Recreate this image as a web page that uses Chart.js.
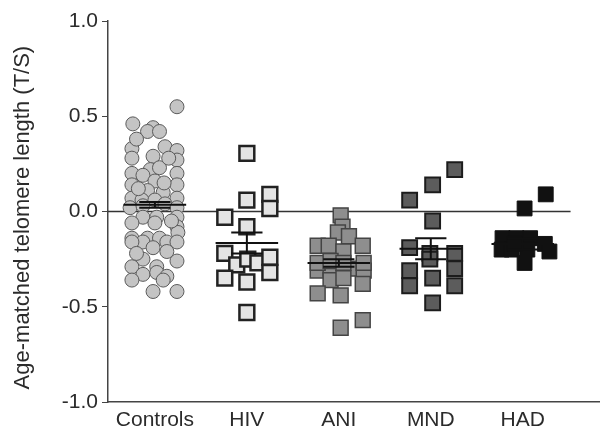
<!DOCTYPE html>
<html>
<head>
<meta charset="utf-8">
<script src="https://cdn.jsdelivr.net/npm/chart.js@4/dist/chart.umd.min.js"></script>
<style>
  html, body { margin: 0; padding: 0; background: #fff; overflow: hidden; }
  #wrap { position: relative; width: 600px; height: 439px; }
  canvas { display: block; }
</style>
</head>
<body>
<div id="wrap"><canvas id="myChart"></canvas></div>
<script>
/* Data */
const categories = ['Controls', 'HIV', 'ANI', 'MND', 'HAD'];
const yTicks = [-1.0, -0.5, 0.0, 0.5, 1.0];

// jitter = horizontal offset inside each group (in group units), values = T/S
const controlsJitter = [0.24, -0.24, -0.02, -0.08, 0.05, 0.11, -0.25, 0.24, -0.02, -0.25, 0.24, -0.05, 0.05, -0.25, 0.24, -0.13, 0, -0.25, 0.24, -0.08, 0.09, -0.25, 0.24, -0.14, 0, 0.11, -0.27, -0.13, 0.24, -0.13, 0.02, 0.24, -0.25, 0, 0.24, 0.25, -0.25, -0.08, 0.05, -0.13, 0.13, 0.24, -0.25, -0.02, 0.13, 0.24, -0.13, -0.25, 0.02, -0.13, -0.25, 0.02, 0.13, 0.09, -0.02, 0.24, -0.2, 0.15, -0.18, 0.18, -0.2, 0.1];
const controlsValues = [0.55, 0.46, 0.44, 0.42, 0.42, 0.34, 0.33, 0.32, 0.29, 0.28, 0.27, 0.22, 0.23, 0.20, 0.20, 0.19, 0.16, 0.14, 0.14, 0.11, 0.10, 0.07, 0.07, 0.06, 0.06, 0.04, 0.02, 0.03, 0.02, -0.03, -0.03, -0.03, -0.06, -0.06, -0.08, -0.11, -0.14, -0.14, -0.14, -0.16, -0.16, -0.16, -0.16, -0.19, -0.21, -0.26, -0.25, -0.29, -0.29, -0.33, -0.36, -0.32, -0.34, -0.36, -0.42, -0.42, 0.38, 0.28, 0.12, -0.05, -0.22, 0.15];

const hivJitter = [0, 0, 0.25, 0.25, -0.24, 0, -0.24, -0.11, 0.01, 0.12, 0.25, 0.25, -0.24, 0, 0];
const hivValues = [0.305, 0.06, 0.09, 0.016, -0.03, -0.08, -0.22, -0.28, -0.25, -0.27, -0.24, -0.32, -0.35, -0.37, -0.53];

const aniJitter = [0.02, 0.04, -0.01, 0.11, -0.23, -0.11, 0.26, 0.05, -0.23, -0.09, 0.13, 0.27, -0.09, 0.05, 0.26, -0.23, 0.02, 0.02, 0.26, -0.23, -0.09, 0.05, 0.27];
const aniValues = [-0.02, -0.08, -0.11, -0.13, -0.18, -0.18, -0.18, -0.21, -0.31, -0.30, -0.30, -0.31, -0.36, -0.35, -0.38, -0.43, -0.44, -0.61, -0.57, -0.27, -0.26, -0.27, -0.27];

const mndJitter = [0.26, 0.02, -0.23, 0.02, -0.23, -0.01, 0.26, -0.01, 0.26, -0.23, -0.23, 0.02, 0.26, 0.02];
const mndValues = [0.22, 0.14, 0.06, -0.05, -0.19, -0.22, -0.22, -0.25, -0.30, -0.31, -0.39, -0.35, -0.39, -0.48];

const hadJitter = [0.25, 0.02, -0.22, -0.07, 0.08, 0.24, -0.23, -0.12, 0.05, 0.29, 0.02, -0.09];
const hadValues = [0.09, 0.016, -0.14, -0.14, -0.14, -0.17, -0.20, -0.20, -0.20, -0.21, -0.27, -0.17];

const groupMeans = [0.035, -0.165, -0.27, -0.195, -0.17];
const groupSems = [0.015, 0.055, 0.02, 0.055, 0.03];

// reference line at 0 (stops short of the right edge)
const zeroLineX = [0.49, 5.52];

/* Helpers */
function toPoints (groupIndex, jitter, values) {
  return values.map(function (v, i) {
    return { x: groupIndex + 1 + jitter[i], y: v };
  });
}

// mean line + SEM whiskers, gaps separate the segments
const errorPoints = [];
groupMeans.forEach(function (m, i) {
  const c = i + 1;
  const s = groupSems[i];
  errorPoints.push(
    { x: c - 0.34, y: m }, { x: c + 0.34, y: m }, { x: c, y: null },
    { x: c, y: m - s }, { x: c, y: m + s }, { x: c, y: null },
    { x: c - 0.17, y: m + s }, { x: c + 0.17, y: m + s }, { x: c, y: null },
    { x: c - 0.17, y: m - s }, { x: c + 0.17, y: m - s }, { x: c, y: null }
  );
});

const font = "'Liberation Sans', Arial, sans-serif";
const textColor = '#2b2b2b';

/* Chart */
var ctx = document.getElementById('myChart').getContext('2d');

var chart = new Chart(ctx, {
  type: 'scatter',
  data: {
    datasets: [
      {
        label: 'mean',
        type: 'line',
        data: errorPoints,
        showLine: true,
        spanGaps: false,
        borderColor: '#111',
        borderWidth: 2,
        pointRadius: 0,
        order: 0
      },
      {
        label: 'zero',
        type: 'line',
        data: zeroLineX.map(function (x) { return { x: x, y: 0 }; }),
        showLine: true,
        borderColor: '#333',
        borderWidth: 1.5,
        pointRadius: 0,
        order: 2
      },
      {
        label: 'Controls',
        data: toPoints(0, controlsJitter, controlsValues),
        pointStyle: 'circle',
        pointRadius: 7,
        backgroundColor: '#c4c4c4',
        borderColor: '#5a5a5a',
        borderWidth: 1,
        order: 1
      },
      {
        label: 'HIV',
        data: toPoints(1, hivJitter, hivValues),
        pointStyle: 'rect',
        pointRadius: 10.5,
        backgroundColor: '#e4e4e4',
        borderColor: '#222',
        borderWidth: 2.5,
        order: 1
      },
      {
        label: 'ANI',
        data: toPoints(2, aniJitter, aniValues),
        pointStyle: 'rect',
        pointRadius: 10.5,
        backgroundColor: '#8e8e8e',
        borderColor: '#444',
        borderWidth: 1.5,
        order: 1
      },
      {
        label: 'MND',
        data: toPoints(3, mndJitter, mndValues),
        pointStyle: 'rect',
        pointRadius: 10.5,
        backgroundColor: '#5c5c5c',
        borderColor: '#1c1c1c',
        borderWidth: 2,
        order: 1
      },
      {
        label: 'HAD',
        data: toPoints(4, hadJitter, hadValues),
        pointStyle: 'rect',
        pointRadius: 10.5,
        backgroundColor: '#111',
        borderColor: '#111',
        borderWidth: 1,
        order: 1
      }
    ]
  },
  options: {
    responsive: true,
    maintainAspectRatio: false,
    animation: false,
    layout: { autoPadding: false, padding: { top: 21, right: 0, left: 0, bottom: 0 } },
    plugins: {
      legend: { display: false },
      tooltip: { enabled: false }
    },
    scales: {
      x: {
        type: 'linear',
        min: 0.49,
        max: 5.84,
        afterBuildTicks: function (axis) {
          axis.ticks = categories.map(function (c, i) { return { value: i + 1 }; });
        },
        afterFit: function (axis) {
          axis.height = 37;
          axis.paddingLeft = 0;
          axis.paddingRight = 0;
        },
        ticks: {
          autoSkip: false,
          maxRotation: 0,
          padding: 6,
          color: textColor,
          font: { family: font, size: 21 },
          callback: function (value) { return categories[value - 1]; }
        },
        grid: { display: true, drawOnChartArea: false, drawTicks: false },
        border: { display: true, color: '#444', width: 1.5 }
      },
      y: {
        min: -1,
        max: 1,
        afterBuildTicks: function (axis) {
          axis.ticks = yTicks.map(function (v) { return { value: v }; });
        },
        afterFit: function (axis) { axis.width = 108; },
        ticks: {
          padding: 4,
          color: textColor,
          font: { family: font, size: 21 },
          callback: function (value) { return value.toFixed(1); }
        },
        grid: {
          drawOnChartArea: false,
          tickColor: '#444',
          tickLength: 6
        },
        border: { display: true, color: '#444', width: 1.5 },
        title: {
          display: true,
          text: 'Age-matched telomere length (T/S)  ',
          color: textColor,
          font: { family: font, size: 22 },
          padding: { top: 10, bottom: 0 }
        }
      }
    }
  }
});
</script>
</body>
</html>
